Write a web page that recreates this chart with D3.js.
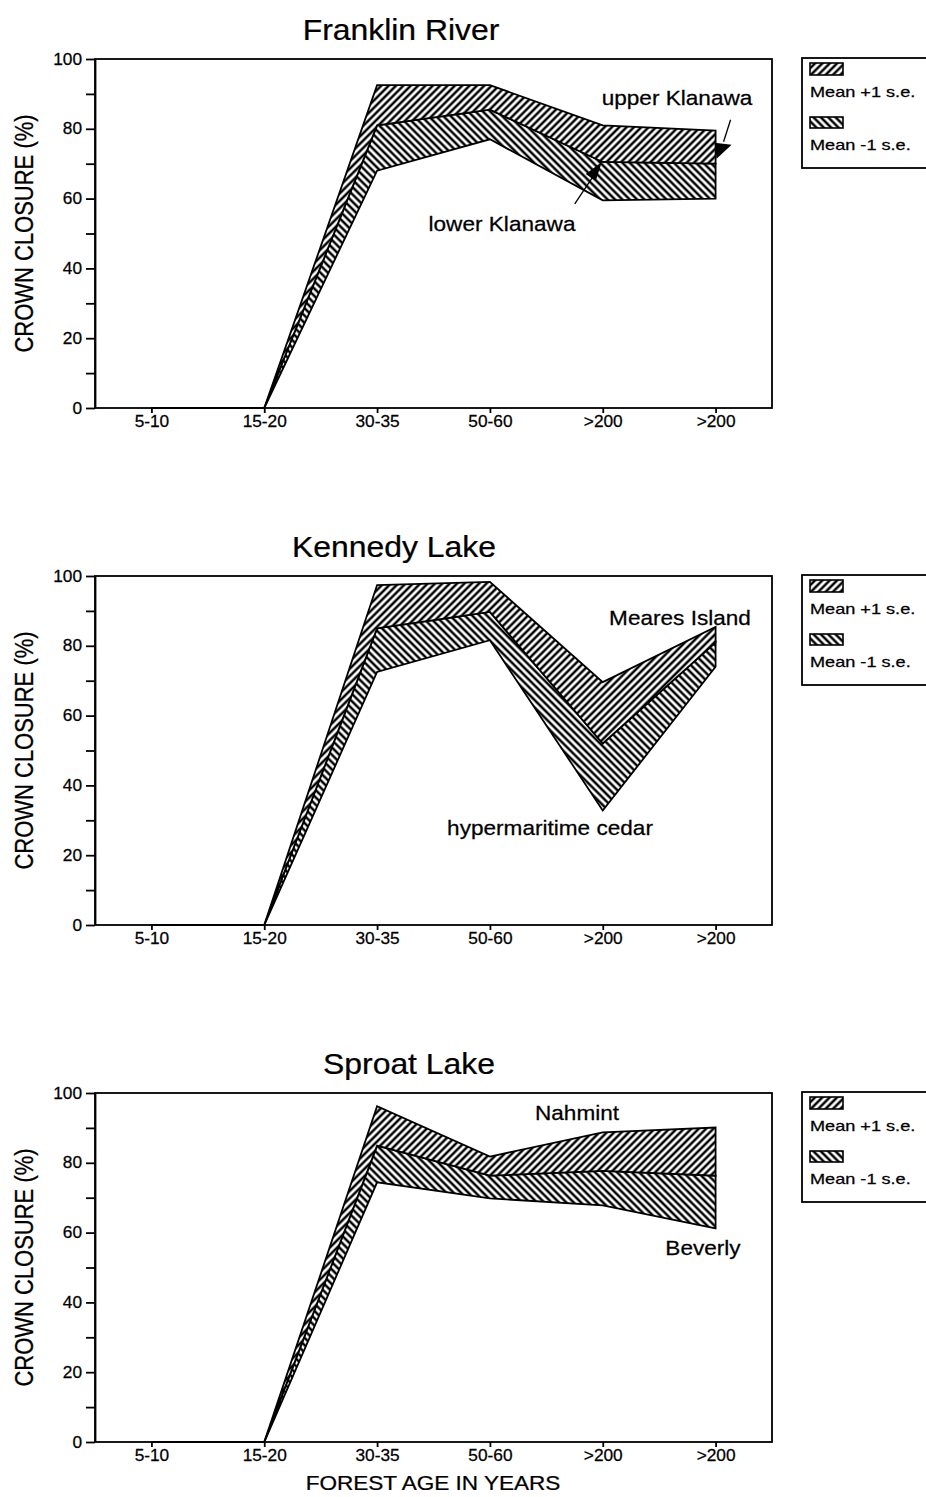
<!DOCTYPE html>
<html>
<head>
<meta charset="utf-8">
<style>
  body { margin: 0; background: #fff; }
  svg text { font-family: "Liberation Sans", Arial, Helvetica, sans-serif; fill: #000; stroke: #000; stroke-width: 0.25; }
  .band { stroke: #000; stroke-width: 1.8; stroke-linejoin: miter; }
  .axis path, .axis line { stroke: #000; stroke-width: 1.8; }
  .frame, .legend-box { fill: none; stroke: #000; stroke-width: 1.8; }
</style>
</head>
<body>
<script src="https://d3js.org/d3.v7.min.js"></script>
<div id="chart"></div>
<script>
// categories on the x axis (the last two are both ">200" in the original)
var ageLabels = ["5-10", "15-20", "30-35", "50-60", ">200", ">200"];
var yTicks = [0, 10, 20, 30, 40, 50, 60, 70, 80, 90, 100];
var legendLabels = ["Mean +1 s.e.", "Mean -1 s.e."];

// Franklin River: mean + 1 s.e., mean, mean - 1 s.e.
var franklinUpper = [0, 0, 92.5, 92.5, 81, 79.5];
var franklinMean  = [0, 0, 81, 85.5, 70.5, 70];
var franklinLower = [0, 0, 68, 77, 59.5, 60];

// Kennedy Lake
var kennedyUpper = [0, 0, 97.4, 98.3, 69.6, 85.4];
var kennedyMean  = [0, 0, 85, 89.7, 52, 81];
var kennedyLower = [0, 0, 72.5, 81.6, 32.8, 74];

// Sproat Lake
var sproatUpper = [0, 0, 96.2, 81.8, 88.7, 90.1];
var sproatMean  = [0, 0, 84.9, 76.3, 77.7, 76.3];
var sproatLower = [0, 0, 74.4, 69.8, 67.8, 61.2];

var width = 926, height = 1497,
    left = 95, right = 772, plotH = 349;

var panels = [
  {title: "Franklin River", upper: franklinUpper, mean: franklinMean, lower: franklinLower, top: 59, titleX: 401},
  {title: "Kennedy Lake", upper: kennedyUpper, mean: kennedyMean, lower: kennedyLower, top: 576, titleX: 394},
  {title: "Sproat Lake", upper: sproatUpper, mean: sproatMean, lower: sproatLower, top: 1093, titleX: 409}
];

var svg = d3.select("#chart").append("svg")
    .attr("width", width)
    .attr("height", height);

// hatch patterns
var defs = svg.append("defs");
function hatch(id, angle) {
  var s = 5.2;
  var p = defs.append("pattern")
      .attr("id", id)
      .attr("patternUnits", "userSpaceOnUse")
      .attr("width", s)
      .attr("height", s)
      .attr("patternTransform", "rotate(" + angle + ")");
  p.append("rect").attr("width", s).attr("height", s).attr("fill", "#fff");
  p.append("line").attr("x1", s / 2).attr("x2", s / 2).attr("y1", 0).attr("y2", s)
      .attr("stroke", "#000").attr("stroke-width", 2.5);
}
hatch("hatchUp", 45);
hatch("hatchDown", -45);

var x = d3.scalePoint()
    .domain(d3.range(ageLabels.length))
    .range([left, right])
    .padding(0.5);

// the scanned figure is wider than it is tall, so text gets a horizontal stretch
function stretchedText(g, str, cx, cy, size, sx, anchor) {
  return g.append("text")
      .attr("transform", "translate(" + cx + "," + cy + ") scale(" + sx + ",1)")
      .attr("text-anchor", anchor || "middle")
      .style("font-size", size + "px")
      .text(str);
}

panels.forEach(function(p, k) {
  var y = d3.scaleLinear().domain([0, 100]).range([p.top + plotH, p.top]);
  var g = svg.append("g");
  var idx = d3.range(ageLabels.length);

  stretchedText(g, p.title, p.titleX, p.top - 19, 29, 1.1);

  // lower band: mean - 1 s.e. to mean
  var lowerArea = d3.area()
      .x(function(i) { return x(i); })
      .y0(function(i) { return y(p.lower[i]); })
      .y1(function(i) { return y(p.mean[i]); });
  // upper band: mean to mean + 1 s.e.
  var upperArea = d3.area()
      .x(function(i) { return x(i); })
      .y0(function(i) { return y(p.mean[i]); })
      .y1(function(i) { return y(p.upper[i]); });

  g.append("path").datum(idx).attr("class", "band")
      .attr("fill", "url(#hatchDown)").attr("d", lowerArea);
  g.append("path").datum(idx).attr("class", "band")
      .attr("fill", "url(#hatchUp)").attr("d", upperArea);

  // frame
  g.append("rect").attr("class", "frame")
      .attr("x", left).attr("y", p.top)
      .attr("width", right - left).attr("height", plotH);

  // x axis
  var xa = g.append("g").attr("class", "axis")
      .attr("transform", "translate(0," + y(0) + ")")
      .call(d3.axisBottom(x).tickSize(5).tickPadding(3)
        .tickFormat(function(i) { return ageLabels[i]; }));
  xa.select(".domain").remove();
  xa.selectAll("text").attr("transform", "scale(1.08,1)")
      .style("font-size", "16px").style("font-family", null);

  // y axis
  var ya = g.append("g").attr("class", "axis")
      .attr("transform", "translate(" + left + ",0)")
      .call(d3.axisLeft(y).tickValues(yTicks).tickSize(9).tickSizeOuter(0)
        .tickFormat(function(d) { return d % 20 === 0 ? d : ""; }));
  ya.selectAll("text").attr("x", -13 / 1.08).attr("transform", "scale(1.08,1)")
      .style("font-size", "16px").style("font-family", null);

  g.append("text")
      .attr("transform", "translate(24," + (p.top + plotH / 2) + ") scale(1.2,1) rotate(-90)")
      .attr("text-anchor", "middle")
      .attr("dy", "0.35em")
      .style("font-size", "22px")
      .text("CROWN CLOSURE (%)");

  // legend
  var lg = g.append("g").attr("transform", "translate(802," + (p.top - 1) + ")");
  lg.append("rect").attr("class", "legend-box").attr("width", 140).attr("height", 110);
  lg.append("rect").attr("x", 8).attr("y", 5).attr("width", 33).attr("height", 12)
      .attr("fill", "url(#hatchUp)").attr("stroke", "#000").attr("stroke-width", 1.6);
  stretchedText(lg, legendLabels[0], 8, 39, 14.5, 1.25, "start");
  lg.append("rect").attr("x", 8).attr("y", 59).attr("width", 33).attr("height", 11)
      .attr("fill", "url(#hatchDown)").attr("stroke", "#000").attr("stroke-width", 1.6);
  stretchedText(lg, legendLabels[1], 8, 92, 14.5, 1.25, "start");

  // site annotations
  if (k === 0) {
    stretchedText(g, "upper Klanawa", 677, p.top + 46, 20, 1.13);
    stretchedText(g, "lower Klanawa", 502, p.top + 172, 20, 1.13);
    var ax = x(5), ay = y(74);
    g.append("line").attr("x1", ax + 15).attr("y1", ay - 30).attr("x2", ax + 8).attr("y2", ay - 8)
        .attr("stroke", "#000").attr("stroke-width", 1.3);
    g.append("path").attr("d", "M" + (ax - 1) + "," + (ay - 7) + "L" + (ax + 16) + "," + (ay - 5) + "L" + (ax + 1) + "," + (ay + 9) + "Z");
    var bx = x(4), by = y(p.mean[4]);
    g.append("line").attr("x1", bx - 28).attr("y1", by + 42).attr("x2", bx - 10).attr("y2", by + 15)
        .attr("stroke", "#000").attr("stroke-width", 1.3);
    g.append("path").attr("d", "M" + (bx - 1) + "," + by + "L" + (bx - 17) + "," + (by + 12) + "L" + (bx - 7) + "," + (by + 19) + "Z");
  } else if (k === 1) {
    stretchedText(g, "Meares Island", 680, p.top + 49, 20, 1.13);
    stretchedText(g, "hypermaritime cedar", 550, p.top + 259, 20, 1.13);
  } else {
    stretchedText(g, "Nahmint", 577, p.top + 27, 20, 1.13);
    stretchedText(g, "Beverly", 703, p.top + 162, 20, 1.13);
  }
});

stretchedText(svg, "FOREST AGE IN YEARS", 433, 1490, 20.5, 1.1);
</script>
</body>
</html>
